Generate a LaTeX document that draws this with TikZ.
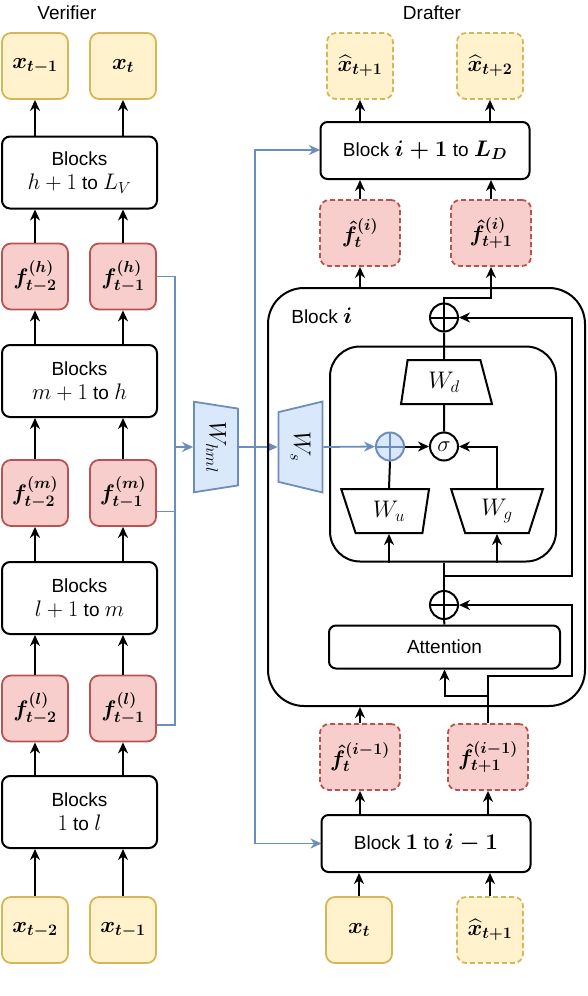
\documentclass[tikz,border=0pt]{standalone}
\usepackage{fix-cm}
\usepackage[no-math]{fontspec}
\setmainfont{Liberation Sans}
\usepackage{amsmath,amssymb}
\usetikzlibrary{shapes.geometric,arrows.meta}
\DeclareMathSizes{19}{22.5}{16}{12}

\definecolor{tokfill}{HTML}{FFF2CC}
\definecolor{tokline}{HTML}{D6B656}
\definecolor{featfill}{HTML}{F8CECC}
\definecolor{featline}{HTML}{B85450}
\definecolor{projfill}{HTML}{DAE8FC}
\definecolor{projline}{HTML}{6C8EBF}

\begin{document}
\begin{tikzpicture}[x=1pt,y=-1pt,line width=2pt,
    >={Stealth[length=11pt,width=10pt,inset=3.5pt]},
    font=\fontsize{19}{24}\selectfont,
    tok/.style={draw=tokline,fill=tokfill,line width=1.8pt,rounded corners=9pt,
        minimum width=66pt,minimum height=66pt,inner sep=0pt,
        font=\fontsize{19}{24}\selectfont\boldmath},
    draft/.style={dash pattern=on 5pt off 3pt},
    feat/.style={tok,draw=featline,fill=featfill},
    blocks/.style={draw,rounded corners=8pt,minimum width=155pt,minimum height=72pt,
        align=center,inner sep=0pt},
    dblock/.style={draw,rounded corners=7pt,minimum width=209pt,minimum height=57pt,
        inner sep=0pt,font=\fontsize{19}{24}\selectfont\boldmath},
    proj/.style={trapezium,trapezium stretches=true,draw,inner sep=0pt,minimum height=44pt,
        font=\fontsize{24}{28}\selectfont},
    lin/.style={proj,draw=projline,fill=projfill,line width=1.8pt,rotate=-90,
        minimum width=91pt,trapezium left angle=77,trapezium right angle=77},
    bus/.style={draw=projline,line width=1.8pt},
    plusc/.style={circle,draw=#1,line width=2pt,minimum size=28pt,inner sep=0pt,
        path picture={\draw[#1,line width=2pt]
            (path picture bounding box.north) -- (path picture bounding box.south)
            (path picture bounding box.west) -- (path picture bounding box.east);}},
    plusc/.default=black
]
\useasboundingbox (0,0) rectangle (588,996);

% titles
\node (verif) at (67,13) {Verifier};
\node (draft) at (432,13) {Drafter};

% verifier column
\node[tok] (xo1) at (35,66) {$x_{t-1}$};
\node[tok] (xo2) at (123,66) {$x_t$};
\node[blocks] (bV) at (79.5,172.5) {Blocks\\$h+1$ to $L_V$};
\node[feat] (fh1) at (35,276.5) {$f^{(h)}_{t-2}$};
\node[feat] (fh2) at (123,276.5) {$f^{(h)}_{t-1}$};
\node[blocks] (bh) at (79.5,381) {Blocks\\$m+1$ to $h$};
\node[feat] (fm1) at (35,493) {$f^{(m)}_{t-2}$};
\node[feat] (fm2) at (123,493) {$f^{(m)}_{t-1}$};
\node[blocks] (bm) at (79.5,598) {Blocks\\$l+1$ to $m$};
\node[feat] (fl1) at (35,708.5) {$f^{(l)}_{t-2}$};
\node[feat] (fl2) at (123,708.5) {$f^{(l)}_{t-1}$};
\node[blocks] (bl) at (79.5,812) {Blocks\\$1$ to $l$};
\node[tok] (xi1) at (35,930) {$x_{t-2}$};
\node[tok] (xi2) at (123,930) {$x_{t-1}$};

\path[->]
    (xi1) edge (xi1 |- bl.south)
    (xi2) edge (xi2 |- bl.south)
    (fl1 |- bl.north) edge (fl1)
    (fl2 |- bl.north) edge (fl2)
    (fl1) edge (fl1 |- bm.south)
    (fl2) edge (fl2 |- bm.south)
    (fm1 |- bm.north) edge (fm1)
    (fm2 |- bm.north) edge (fm2)
    (fm1) edge (fm1 |- bh.south)
    (fm2) edge (fm2 |- bh.south)
    (fh1 |- bh.north) edge (fh1)
    (fh2 |- bh.north) edge (fh2)
    (fh1) edge (fh1 |- bV.south)
    (fh2) edge (fh2 |- bV.south)
    (xo1 |- bV.north) edge (xo1)
    (xo2 |- bV.north) edge (xo2);

% projections
\coordinate (vbus) at (175,0);
\coordinate (dbus) at (255,0);
\node[lin] (Whml) at (216,447) {$W_{hml}$};
\node[lin,shape border rotate=180] (Ws) at (300.5,447) {$W_s$};

\draw[bus] (fh2.east) -- (vbus |- fh2.east) -- (vbus |- 0,725) -- ([yshift=-16.5pt]fl2.east);
\draw[bus] (vbus |- 0,511.5) -- ([yshift=-18.5pt]fm2.east);
\draw[bus,->] (vbus |- Whml) -- (Whml.south);
\draw[bus,->] (Whml.north) -- (Ws.south);
\draw[bus,->] (dbus |- Whml) |- (dbus |- 0,150) -- (320,150);
\draw[bus,->] (dbus |- Whml) |- (321.5,843.5);

% drafter column
\node[tok,draft] (xh1) at (360,66) {$\widehat{x}_{t+1}$};
\node[tok,draft] (xh2) at (490,66) {$\widehat{x}_{t+2}$};
\node[dblock] (bD) at (425,150.5) {Block $i+1$ to $L_D$};
\node[feat,draft,minimum width=80pt] (fi1) at (360,233) {$\hat{f}^{(i)}_{t}$};
\node[feat,draft,minimum width=80pt] (fi2) at (491,233) {$\hat{f}^{(i)}_{t+1}$};

% block i
\node[draw,rounded corners=36pt,minimum width=317pt,minimum height=418pt] (blki) at (426.5,497) {};
\node[anchor=west,font=\fontsize{19}{24}\selectfont\boldmath] (lbli) at (287,316) {Block $i$};
\node[draw,rounded corners=30pt,minimum width=226pt,minimum height=215pt] (mlp) at (443,454) {};
\node[plusc] (plus1) at (444,317.5) {};
\node[proj,minimum width=91pt,trapezium left angle=82,trapezium right angle=76] (Wd) at (444,382) {$W_d$};
\node[circle,draw,minimum size=28pt,inner sep=0pt,line width=2pt] (sig) at (444,446.5) {$\sigma$};
\node[plusc=projline,fill=projfill] (bplus) at (390,446.5) {};
\node[proj,shape border rotate=180,minimum width=88pt,trapezium left angle=81,trapezium right angle=71] (Wu) at (389,511) {$W_u$};
\node[proj,shape border rotate=180,minimum width=92pt,trapezium left angle=73.5,trapezium right angle=73.5] (Wg) at (497,511) {$W_g$};
\node[plusc] (plus2) at (444,605) {};
\node[draw,rounded corners=7pt,minimum width=231pt,minimum height=43pt,inner sep=0pt] (att) at (444.5,647) {Attention};
\coordinate (rr) at (571.5,0);

\node[feat,draft,minimum width=80pt] (fj1) at (360,757) {$\hat{f}^{(i-1)}_{t}$};
\node[feat,draft,minimum width=80pt] (fj2) at (488,757) {$\hat{f}^{(i-1)}_{t+1}$};
\node[dblock] (b1) at (426,843.5) {Block $1$ to $i-1$};
\node[tok] (xt) at (359,930) {$x_t$};
\node[tok,draft] (xh3) at (490,930) {$\widehat{x}_{t+1}$};

\path[->]
    (xt) edge (xt |- b1.south)
    (xh3) edge (xh3 |- b1.south)
    (fj1 |- b1.north) edge (fj1)
    (fj2 |- b1.north) edge (fj2)
    (fj1) edge (fj1 |- blki.south)
    (fi1 |- blki.north) edge (fi1)
    (fi1) edge (fi1 |- bD.south)
    (fi2) edge (fi2 |- bD.south)
    (xh1 |- bD.north) edge (xh1)
    (xh2 |- bD.north) edge (xh2);

% inside block i
\draw[->] (fj2.north) |- (rr |- 0,676) |- (plus2.east);
\draw[->] (fj2.north |- 0,696) -| (att.south);
\draw (att.north) -- (plus2.south);
\draw (plus2.north) -- (plus2 |- mlp.south);
\draw[->] (plus2 |- 0,576) -| (rr |- plus1) -- (plus1.east);
\draw[->] (Wu.south |- mlp.south) -- (Wu.south);
\draw[->] (Wg.south |- mlp.south) -- (Wg.south);
\draw (Wu.north) -- (bplus.south);
\draw[->] (Wg.north) |- (sig.east);
\draw[->] (bplus.east) -- (sig.west);
\draw[bus,->] (Ws.north) -- (bplus.west);
\draw (sig.north) -- (Wd.south);
\draw (Wd.north) -- (plus1.south);
\draw[->] (plus1.north) |- (fi2.south |- 0,298) -- (fi2.south);
\end{tikzpicture}
\end{document}
